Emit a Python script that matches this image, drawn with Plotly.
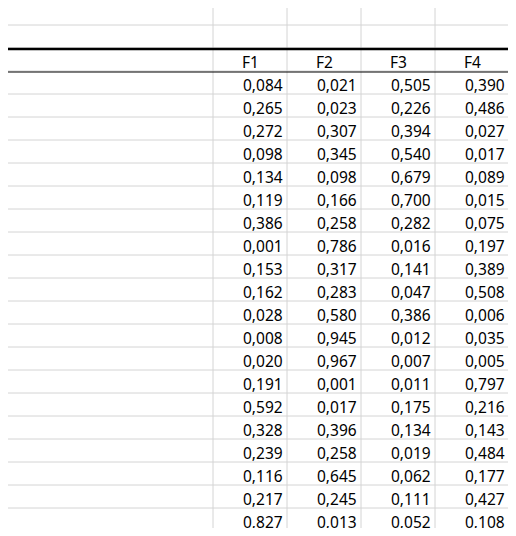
import plotly.graph_objects as go

title = "Cosinus carrés (Observations) :"
columns = ["F1", "F2", "F3", "F4"]
observations = ["Obs%d" % i for i in range(1, 21)]
f1 = [0.084, 0.265, 0.272, 0.098, 0.134, 0.119, 0.386, 0.001, 0.153, 0.162,
      0.028, 0.008, 0.020, 0.191, 0.592, 0.328, 0.239, 0.116, 0.217, 0.827]
f2 = [0.021, 0.023, 0.307, 0.345, 0.098, 0.166, 0.258, 0.786, 0.317, 0.283,
      0.580, 0.945, 0.967, 0.001, 0.017, 0.396, 0.258, 0.645, 0.245, 0.013]
f3 = [0.505, 0.226, 0.394, 0.540, 0.679, 0.700, 0.282, 0.016, 0.141, 0.047,
      0.386, 0.012, 0.007, 0.011, 0.175, 0.134, 0.019, 0.062, 0.111, 0.052]
f4 = [0.390, 0.486, 0.027, 0.017, 0.089, 0.015, 0.075, 0.197, 0.389, 0.508,
      0.006, 0.035, 0.005, 0.797, 0.216, 0.143, 0.484, 0.177, 0.427, 0.108]
values = [f1, f2, f3, f4]

# page has an 8px body margin, so the figure is 16px smaller and the
# axis ranges are offset to keep data units == window pixels
PAD = 8
W, H = 516 - 2 * PAD, 536 - 2 * PAD
col_x = [4, 213, 287, 361, 435, 509]   # cell borders
row_h = 23
top = 2
grid = "#d4d4d4"
font = dict(family="Noto Sans, Open Sans, sans-serif", size=15.5, color="black")

fig = go.Figure()
shapes = []
annotations = []

# excel grid lines
for x in col_x:
    shapes.append(dict(type="line", x0=x, x1=x, y0=0, y1=540, line=dict(color=grid, width=1)))
for i in range(24):
    y = top + i * row_h
    shapes.append(dict(type="line", x0=0, x1=520, y0=y, y1=y, line=dict(color=grid, width=1)))

header_top = top + 2 * row_h + 1
header_bot = header_top + row_h
bottom = header_bot + 20 * row_h
shapes.append(dict(type="line", x0=col_x[0], x1=col_x[-1], y0=header_top, y1=header_top,
                   line=dict(color="black", width=2.5)))
shapes.append(dict(type="line", x0=col_x[0], x1=col_x[-1], y0=header_bot, y1=header_bot,
                   line=dict(color="black", width=1.2)))
shapes.append(dict(type="line", x0=col_x[0], x1=col_x[-1], y0=bottom, y1=bottom,
                   line=dict(color="black", width=2.5)))

def text(x, y, s, anchor):
    annotations.append(dict(x=x, y=y, text=s, showarrow=False, xanchor=anchor,
                            yanchor="middle", font=font))

text(col_x[0] + 3, top + row_h / 2 + 1, title, "left")
for j, c in enumerate(columns):
    text((col_x[j + 1] + col_x[j + 2]) / 2, header_top + row_h / 2 + 1, c, "center")
for i, name in enumerate(observations):
    y = header_bot + i * row_h + row_h / 2 + 1
    text(col_x[0] + 3, y, name, "left")
    for j in range(4):
        text(col_x[j + 2] - 2, y, f"{values[j][i]:.3f}".replace(".", ","), "right")

fig.update_layout(
    width=W, height=H, margin=dict(l=0, r=0, t=0, b=0),
    plot_bgcolor="white", paper_bgcolor="white",
    xaxis=dict(range=[PAD, PAD + W], visible=False, fixedrange=True),
    yaxis=dict(range=[PAD + H, PAD], visible=False, fixedrange=True),
    shapes=shapes, annotations=annotations, showlegend=False,
)
fig.write_html("out.html")
